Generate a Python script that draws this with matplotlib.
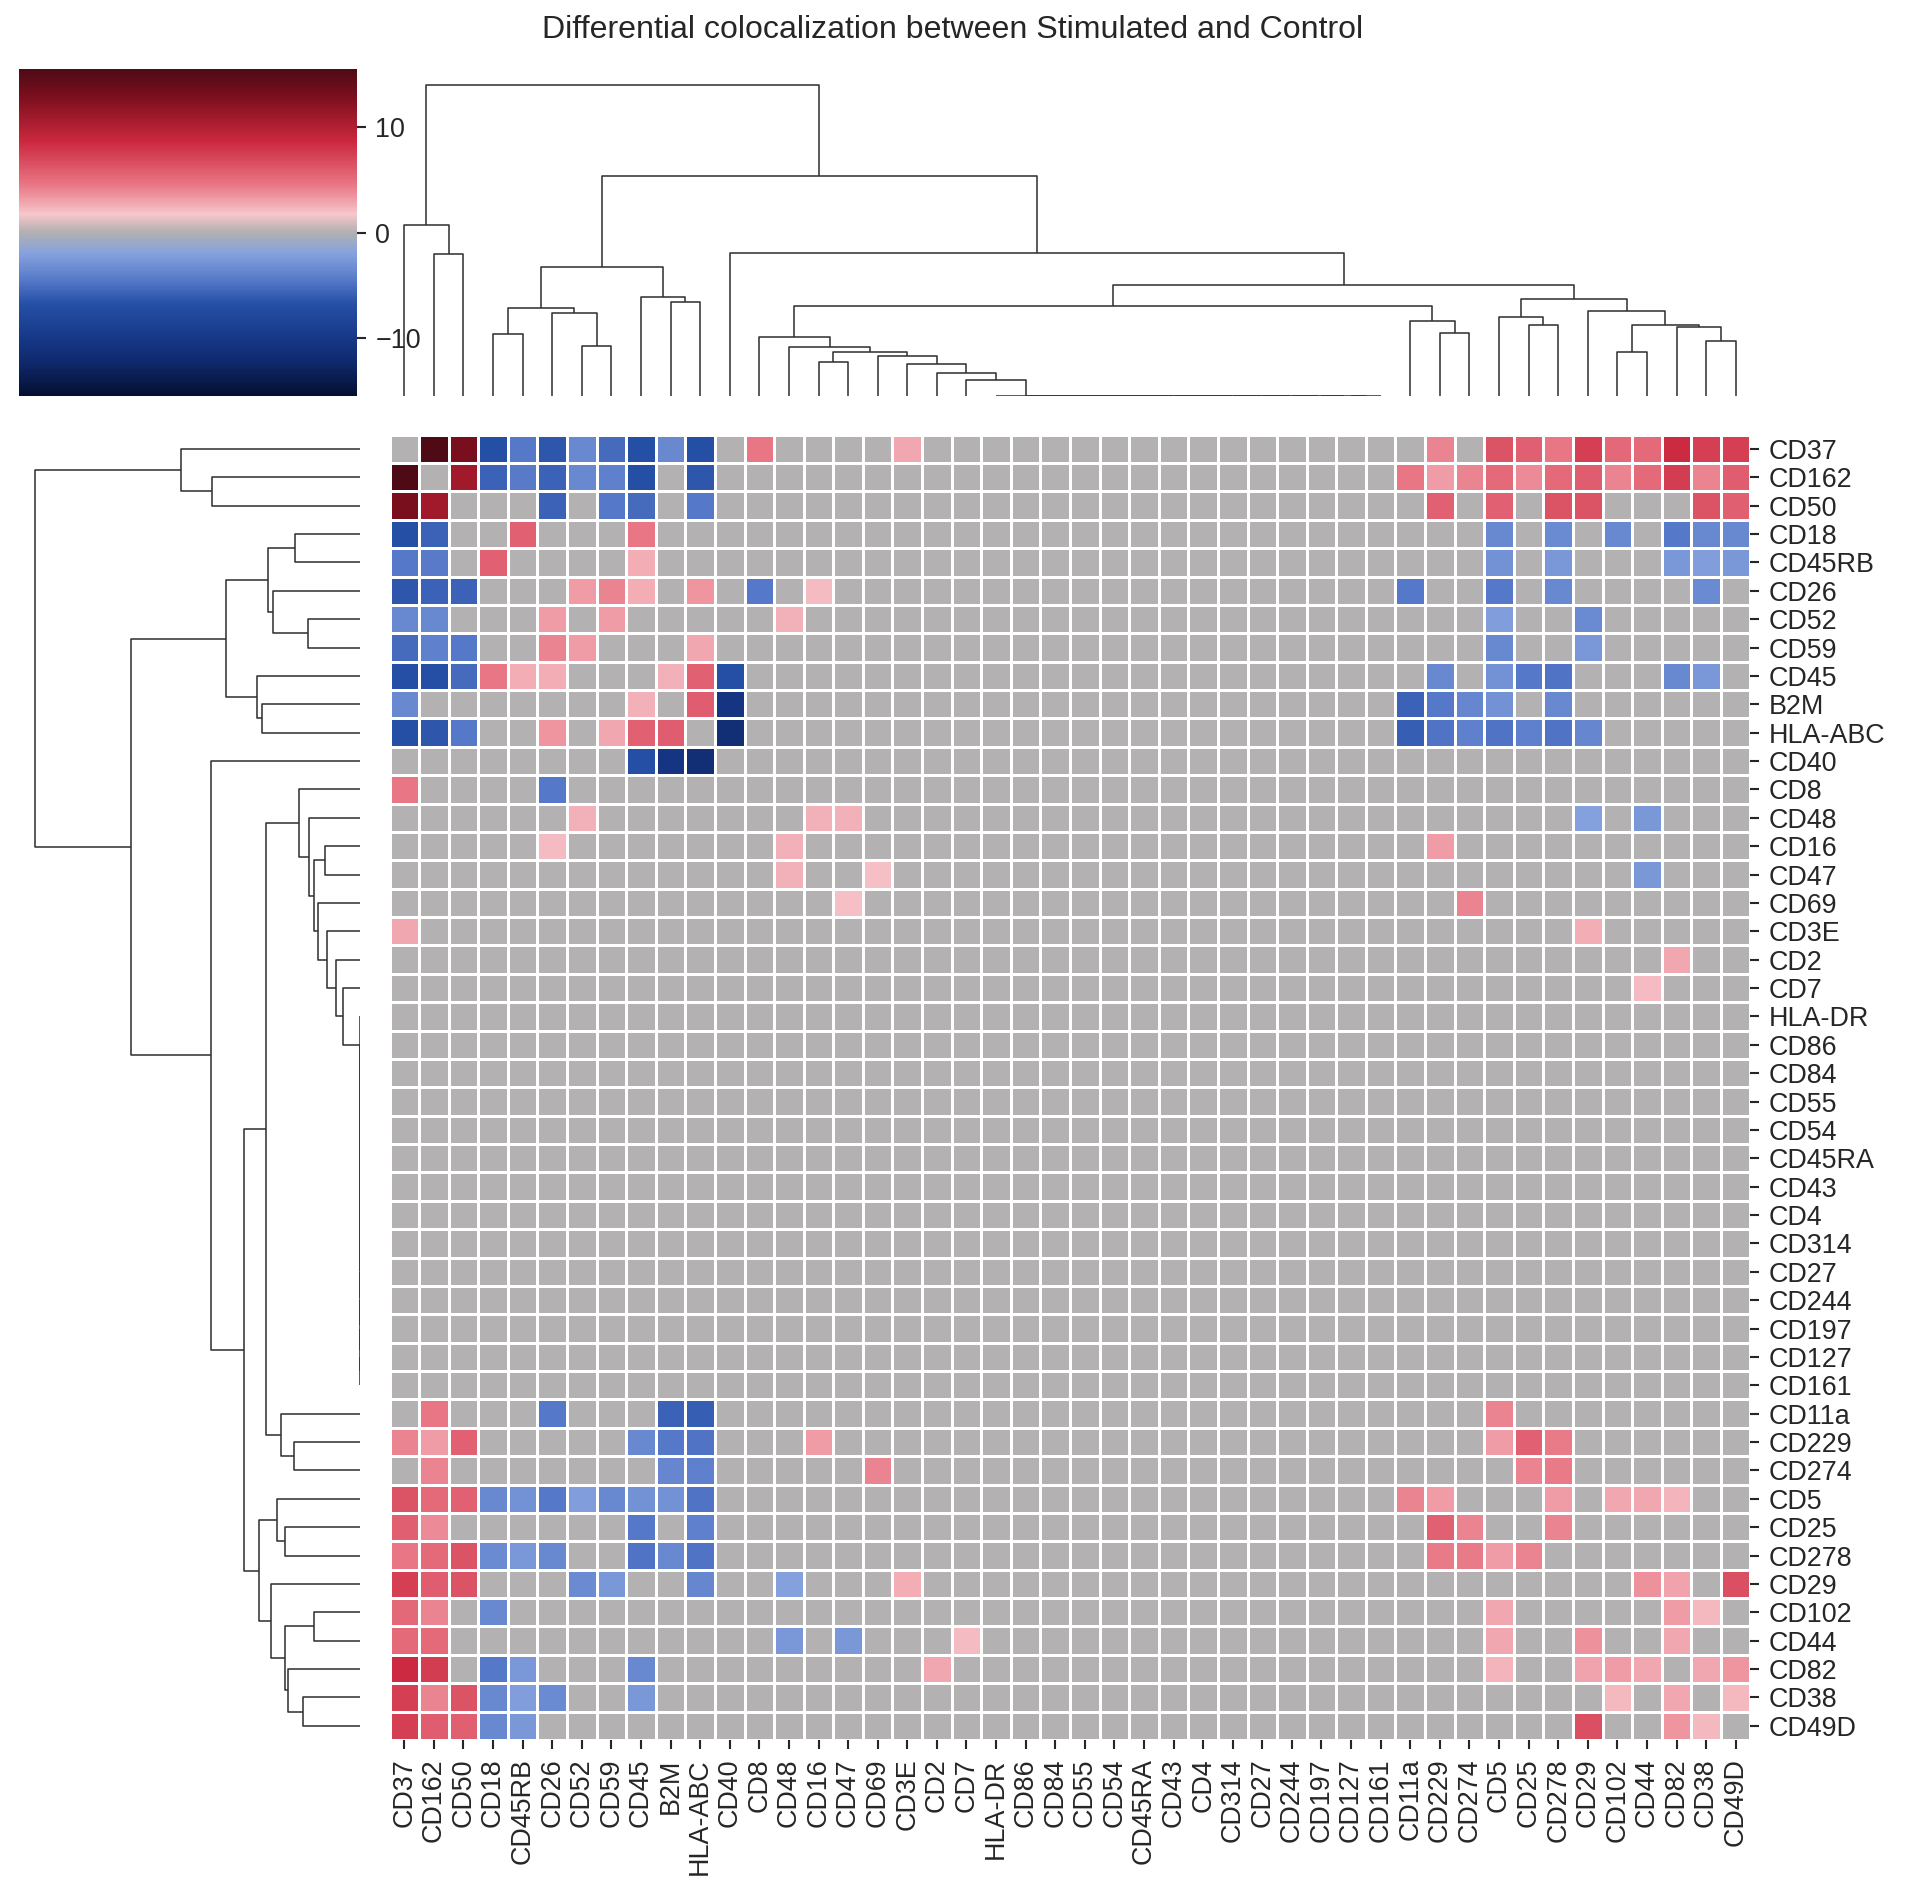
import numpy as np
import matplotlib
matplotlib.use("Agg")
import matplotlib.pyplot as plt
from matplotlib.colors import LinearSegmentedColormap
from matplotlib.collections import LineCollection

plt.rcParams['font.family'] = ['Liberation Sans', 'DejaVu Sans']

# ---------------- data ----------------
markers = ["CD37", "CD162", "CD50", "CD18", "CD45RB", "CD26", "CD52", "CD59", "CD45",
           "B2M", "HLA-ABC", "CD40", "CD8", "CD48", "CD16", "CD47", "CD69", "CD3E",
           "CD2", "CD7", "HLA-DR", "CD86", "CD84", "CD55", "CD54", "CD45RA", "CD43",
           "CD4", "CD314", "CD27", "CD244", "CD197", "CD127", "CD161", "CD11a",
           "CD229", "CD274", "CD5", "CD25", "CD278", "CD29", "CD102", "CD44", "CD82",
           "CD38", "CD49D"]

# significant differential colocalization scores (symmetric pairs)
pairs = [
    ("CD37", "CD162", 15.5), ("CD37", "CD50", 13.0), ("CD37", "CD18", -6.9),
    ("CD37", "CD45RB", -4.5), ("CD37", "CD26", -6.4), ("CD37", "CD52", -3.6),
    ("CD37", "CD59", -5.3), ("CD37", "CD45", -6.8), ("CD37", "B2M", -3.6),
    ("CD37", "HLA-ABC", -6.9), ("CD37", "CD8", 4.5), ("CD37", "CD3E", 2.8),
    ("CD37", "CD229", 4.0), ("CD37", "CD5", 6.4), ("CD37", "CD25", 5.8),
    ("CD37", "CD278", 4.6), ("CD37", "CD29", 7.5), ("CD37", "CD102", 5.3),
    ("CD37", "CD44", 5.2), ("CD37", "CD82", 8.5), ("CD37", "CD38", 7.5),
    ("CD37", "CD49D", 7.5),
    ("CD162", "CD50", 10.9), ("CD162", "CD18", -5.8), ("CD162", "CD45RB", -4.4),
    ("CD162", "CD26", -5.8), ("CD162", "CD52", -3.6), ("CD162", "CD59", -4.0),
    ("CD162", "CD45", -6.8), ("CD162", "HLA-ABC", -6.4), ("CD162", "CD11a", 4.6),
    ("CD162", "CD229", 3.2), ("CD162", "CD274", 4.0), ("CD162", "CD5", 5.2),
    ("CD162", "CD25", 3.8), ("CD162", "CD278", 5.2), ("CD162", "CD29", 5.9),
    ("CD162", "CD102", 4.0), ("CD162", "CD44", 5.2), ("CD162", "CD82", 7.6),
    ("CD162", "CD38", 4.1), ("CD162", "CD49D", 5.9),
    ("CD50", "CD26", -5.7), ("CD50", "CD59", -4.5), ("CD50", "CD45", -5.3),
    ("CD50", "HLA-ABC", -4.5), ("CD50", "CD229", 5.6), ("CD50", "CD5", 5.6),
    ("CD50", "CD278", 6.4), ("CD50", "CD29", 6.4), ("CD50", "CD38", 6.4),
    ("CD50", "CD49D", 5.8),
    ("CD18", "CD45RB", 5.6), ("CD18", "CD45", 4.6), ("CD18", "CD5", -3.6),
    ("CD18", "CD278", -3.5), ("CD18", "CD102", -3.6), ("CD18", "CD82", -4.5),
    ("CD18", "CD38", -3.6), ("CD18", "CD49D", -3.6),
    ("CD45RB", "CD45", 2.6), ("CD45RB", "CD5", -3.0), ("CD45RB", "CD278", -2.6),
    ("CD45RB", "CD82", -2.6), ("CD45RB", "CD38", -2.2), ("CD45RB", "CD49D", -2.6),
    ("CD26", "CD52", 3.2), ("CD26", "CD59", 4.0), ("CD26", "CD45", 2.6),
    ("CD26", "HLA-ABC", 3.5), ("CD26", "CD8", -4.5), ("CD26", "CD16", 2.1),
    ("CD26", "CD11a", -4.5), ("CD26", "CD5", -4.5), ("CD26", "CD278", -3.6),
    ("CD26", "CD38", -3.5),
    ("CD52", "CD59", 3.2), ("CD52", "CD48", 2.45), ("CD52", "CD5", -2.3),
    ("CD52", "CD29", -3.5),
    ("CD59", "HLA-ABC", 2.8), ("CD59", "CD5", -3.6), ("CD59", "CD29", -2.6),
    ("CD45", "B2M", 2.45), ("CD45", "HLA-ABC", 5.6), ("CD45", "CD40", -6.8),
    ("CD45", "CD229", -3.6), ("CD45", "CD5", -3.0), ("CD45", "CD25", -4.5),
    ("CD45", "CD278", -4.8), ("CD45", "CD82", -3.6), ("CD45", "CD38", -2.6),
    ("B2M", "HLA-ABC", 5.9), ("B2M", "CD40", -10.5), ("B2M", "CD11a", -5.8),
    ("B2M", "CD229", -4.5), ("B2M", "CD274", -3.7), ("B2M", "CD5", -3.0),
    ("B2M", "CD278", -3.6),
    ("HLA-ABC", "CD40", -11.5), ("HLA-ABC", "CD11a", -6.0), ("HLA-ABC", "CD229", -4.8),
    ("HLA-ABC", "CD274", -4.0), ("HLA-ABC", "CD5", -4.8), ("HLA-ABC", "CD25", -4.0),
    ("HLA-ABC", "CD278", -4.8), ("HLA-ABC", "CD29", -3.7),
    ("CD48", "CD16", 2.45), ("CD48", "CD47", 2.45), ("CD48", "CD29", -2.0),
    ("CD48", "CD44", -2.6),
    ("CD16", "CD229", 3.2),
    ("CD47", "CD69", 1.95), ("CD47", "CD44", -2.6),
    ("CD69", "CD274", 4.0),
    ("CD3E", "CD29", 2.6),
    ("CD2", "CD82", 2.8),
    ("CD7", "CD44", 2.1),
    ("CD11a", "CD5", 4.0),
    ("CD229", "CD5", 3.2), ("CD229", "CD25", 5.6), ("CD229", "CD278", 4.4),
    ("CD274", "CD25", 4.1), ("CD274", "CD278", 4.4),
    ("CD5", "CD278", 3.2), ("CD5", "CD102", 2.8), ("CD5", "CD44", 2.8),
    ("CD5", "CD82", 2.4),
    ("CD25", "CD278", 4.0),
    ("CD29", "CD44", 3.6), ("CD29", "CD82", 3.0), ("CD29", "CD49D", 6.6),
    ("CD102", "CD82", 3.2), ("CD102", "CD38", 2.25),
    ("CD44", "CD82", 2.8),
    ("CD82", "CD38", 2.9), ("CD82", "CD49D", 3.5),
    ("CD38", "CD49D", 2.25),
]

# markers with no significant change: merged at zero distance
zero_block = ["HLA-DR", "CD86", "CD84", "CD55", "CD54", "CD45RA", "CD43", "CD4",
              "CD314", "CD27", "CD244", "CD197", "CD127", "CD161"]
ZB = "ZERO_BLOCK"

# hierarchical clustering tree pieces: (merge height, left, right)
clust_top = (0.549, "CD37", (0.456, "CD162", "CD50"))
clust_mid = (0.413,
             (0.281, (0.198, "CD18", "CD45RB"), (0.267, "CD26", (0.160, "CD52", "CD59"))),
             (0.317, "CD45", (0.301, "B2M", "HLA-ABC")))
clust_chain = (0.188, "CD8", (0.156, "CD48", (0.140, (0.107, "CD16", "CD47"),
               (0.129, "CD69", (0.101, "CD3E", (0.074, "CD2", (0.0505, "CD7", ZB)))))))
clust_11a = (0.241, "CD11a", (0.203, "CD229", "CD274"))
clust_right = (0.310,
               (0.254, "CD5", (0.229, "CD25", "CD278")),
               (0.272, "CD29", (0.229, (0.140, "CD102", "CD44"),
                                (0.220, "CD82", (0.175, "CD38", "CD49D")))))
tree = (1.0, clust_top,
        (0.706, clust_mid,
         (0.458, "CD40", (0.355, (0.289, clust_chain, clust_11a), clust_right))))

vlim = 15.5

# ---------------- build matrix ----------------
n = len(markers)
idx = {m: i for i, m in enumerate(markers)}
mat = np.zeros((n, n))
for a, b, v in pairs:
    mat[idx[a], idx[b]] = v
    mat[idx[b], idx[a]] = v


def build_zero(names):
    node = names[-1]
    for nm in reversed(names[:-1]):
        node = (0.0, nm, node)
    return node


def expand(node):
    if isinstance(node, str):
        return build_zero(zero_block) if node == ZB else node
    h, l, r = node
    return (h, expand(l), expand(r))


full_tree = expand(tree)


def dendro_segments(node):
    if isinstance(node, str):
        return 5.0 + 10.0 * idx[node], 0.0, []
    h, l, r = node
    xl, hl, sl = dendro_segments(l)
    xr, hr, sr = dendro_segments(r)
    seg = [[(xl, hl), (xl, h), (xr, h), (xr, hr)]]
    return (xl + xr) / 2.0, h, sl + sr + seg


_, top_h, segs = dendro_segments(full_tree)

# ---------------- colormap ----------------
stops = [(-15.5, '#050f33'), (-12.2, '#0f2a6e'), (-10.0, '#173888'), (-6.8, '#2550a6'),
         (-4.6, '#5577c8'), (-1.9, '#87a3de'), (0.0, '#b1b0b1'), (1.75, '#f6c6cb'),
         (4.6, '#e87584'), (8.7, '#cb283e'), (12.8, '#7e0f1e'), (15.5, '#4e0b16')]
cmap = LinearSegmentedColormap.from_list(
    "diffcoloc", [((v + vlim) / (2 * vlim), c) for v, c in stops])

# ---------------- figure ----------------
W, H = 1906, 1897
DPI = 190
fig = plt.figure(figsize=(W / DPI, H / DPI), dpi=DPI)


def px_axes(x0, y0, x1, y1):
    return fig.add_axes([x0 / W, 1 - y1 / H, (x1 - x0) / W, (y1 - y0) / H])


hm_x0, hm_x1, hm_y0, hm_y1 = 389.5, 1750.5, 434.7, 1740.0
dd_x0, dd_x1 = 19.0, 357.0
rd_x1 = 359.5
dd_y0, dd_y1 = 69.4, 395.7

ax = px_axes(hm_x0, hm_y0, hm_x1, hm_y1)
mesh = ax.pcolormesh(np.arange(n + 1), np.arange(n + 1), mat, cmap=cmap,
                     vmin=-vlim, vmax=vlim, edgecolors='white', linewidth=0.5)
ax.set_xlim(0, n)
ax.set_ylim(n, 0)
for s in ax.spines.values():
    s.set_visible(False)
ax.set_xticks(np.arange(n) + 0.5)
ax.set_xticklabels(markers, rotation=90, fontsize=10.2, color='#262626')
ax.set_yticks(np.arange(n) + 0.5)
ax.set_yticklabels(markers, fontsize=10.2, color='#262626')
ax.yaxis.tick_right()
ax.tick_params(axis='both', length=3.5, width=0.8, color='#262626', pad=3.5)

# column dendrogram
axc = px_axes(hm_x0, dd_y0, hm_x1, dd_y1)
axc.add_collection(LineCollection(segs, colors=[(.2, .2, .2)], linewidths=0.6))
axc.set_xlim(0, 10 * n)
axc.set_ylim(0, top_h * 1.05)
axc.axis('off')

# row dendrogram
axr = px_axes(dd_x0, hm_y0, rd_x1, hm_y1)
row_segs = [[(yv, xv) for xv, yv in s] for s in segs]
axr.add_collection(LineCollection(row_segs, colors=[(.2, .2, .2)], linewidths=0.6))
axr.set_ylim(10 * n, 0)
axr.set_xlim(top_h * 1.05, 0)
axr.axis('off')

# colorbar
cax = px_axes(dd_x0, dd_y0, dd_x1, dd_y1)
cb = fig.colorbar(mesh, cax=cax, ticks=[-10, 0, 10])
cb.outline.set_visible(False)
cax.tick_params(labelsize=10.2, length=3.5, width=0.8, color='#262626',
                labelcolor='#262626')

fig.text(0.5, 1 - 30 / H, "Differential colocalization between Stimulated and Control",
         ha='center', va='center', fontsize=12.2, color='#262626')

fig.savefig("out.png", dpi=DPI)
